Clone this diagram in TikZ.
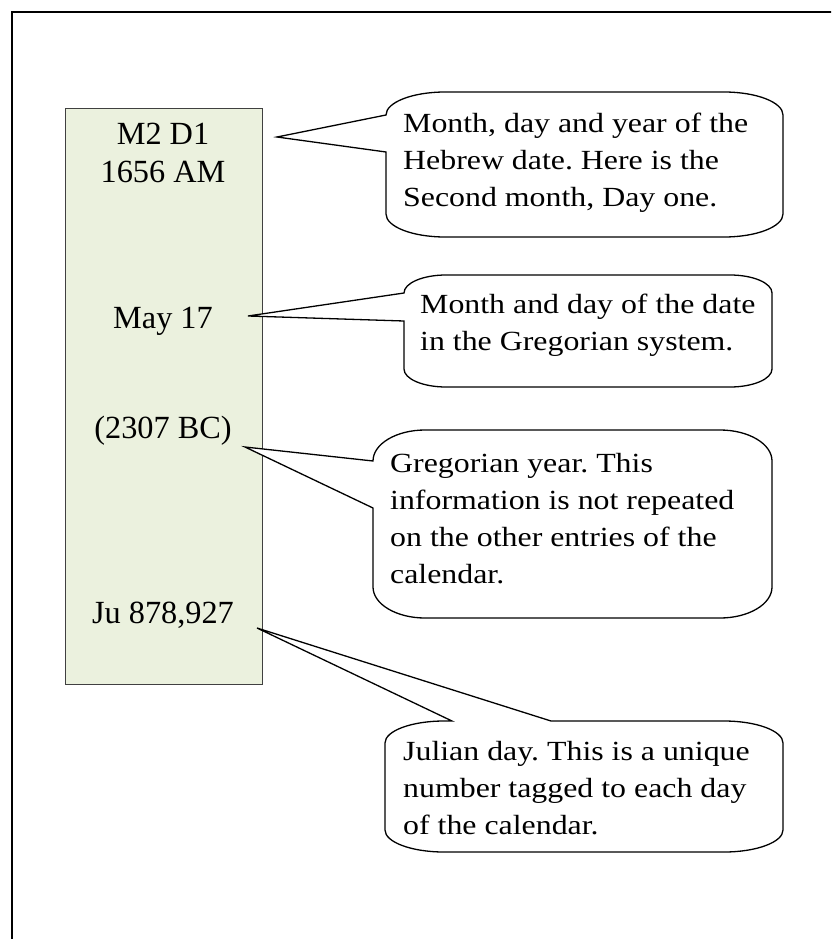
\documentclass[tikz,border=0pt]{standalone}
\usepackage{fontspec}
\setmainfont{Liberation Serif}
\newfontfamily\calloutfont[FakeStretch=1.15]{Liberation Serif}
\definecolor{boxgreen}{RGB}{235,241,222}
\newcommand{\lcallout}[9]{%
\draw[callout] ({#1+#5},#2) -- ({#3-#5},#2)
 .. controls ({#3-0.448*#5},#2) and (#3,{#2+0.448*#6}) .. (#3,{#2+#6})
 -- (#3,{#4-#6})
 .. controls (#3,{#4-0.448*#6}) and ({#3-0.448*#5},#4) .. ({#3-#5},#4)
 -- ({#1+#5},#4)
 .. controls ({#1+0.448*#5},#4) and (#1,{#4-0.448*#6}) .. (#1,{#4-#6})
 -- (#1,#8) -- (#9) -- (#1,#7) -- (#1,{#2+#6})
 .. controls (#1,{#2+0.448*#6}) and ({#1+0.448*#5},#2) .. cycle;}
\newcommand{\ctext}[1]{\begin{tabular}[t]{@{}l@{}}#1\end{tabular}}
\frenchspacing
\begin{document}
\begin{tikzpicture}[x=1pt,y=-1pt,
  callout/.style={draw=black,line width=1.3pt,fill=white,line join=miter},
  calbox/.style={draw=black!75,line width=1.1pt,fill=boxgreen,inner sep=0pt},
  boxtxt/.style={inner sep=0pt,anchor=base,font=\fontsize{32.3}{38}\selectfont},
  ctxt/.style={inner sep=0pt,anchor=base west,font=\calloutfont\fontsize{27.7}{37}\selectfont\frenchspacing}]
\useasboundingbox (0,0) rectangle (831,939);
\clip (0,0) rectangle (831,939);
% frame
\draw[line width=1.5pt] (12,950) -- (12,12) -- (840,12);
% calendar entry box
\node[calbox,minimum width=197pt,minimum height=576pt,anchor=north west] (cal) at (65,108) {};
\node[boxtxt] (hd) at (163,144) {M2 D1};
\node[boxtxt] (hy) at (163,182) {1656 AM};
\node[boxtxt] (gd) at (163,328) {May 17};
\node[boxtxt] (gy) at (163,438) {(2307 BC)};
\node[boxtxt] (jd) at (163,623) {Ju 878,927};
% tips
\coordinate (t1) at (277,137);
\coordinate (t2) at (248,316);
\coordinate (t3) at (245,447);
\coordinate (t4) at (257,628);
% callouts
\lcallout{386}{92}{783}{237}{59}{23}{115}{152}{t1}
\lcallout{404}{275}{772}{387}{42}{18}{293}{321}{t2}
\lcallout{373}{430}{772}{618}{52}{31}{461}{508}{t3}
\draw[callout] (444,721) -- (452,721) -- (t4) -- (551,721) -- (724,721)
 .. controls ({783-0.448*59},721) and (783,{721+0.448*22}) .. (783,743)
 -- (783,830)
 .. controls (783,{852-0.448*22}) and ({783-0.448*59},852) .. (724,852)
 -- (444,852)
 .. controls ({385+0.448*59},852) and (385,{852-0.448*22}) .. (385,830)
 -- (385,743)
 .. controls (385,{721+0.448*22}) and ({385+0.448*59},721) .. cycle;
% callout texts
\node[ctxt] (c1) at (403,132) {\ctext{Month, day and year of the\\Hebrew date. Here is the\\Second month, Day one.}};
\node[ctxt] (c2) at (420,313) {\ctext{Month and day of the date\\in the Gregorian system.}};
\node[ctxt] (c3) at (390,472) {\ctext{Gregorian year. This\\information is not repeated\\on the other entries of the\\calendar.}};
\node[ctxt] (c4) at (403,760) {\ctext{Julian day. This is a unique\\number tagged to each day\\of the calendar.}};
\end{tikzpicture}
\end{document}
